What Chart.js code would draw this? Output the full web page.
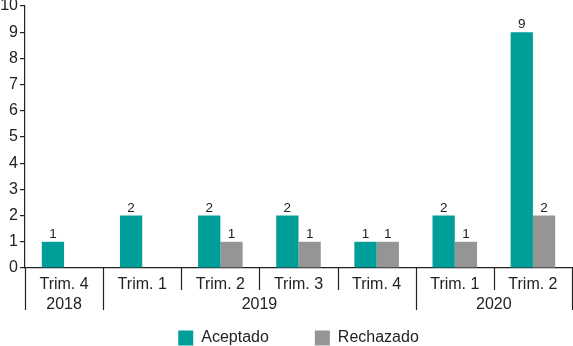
<!DOCTYPE html>
<html>
<head>
<meta charset="utf-8">
<script src="https://cdn.jsdelivr.net/npm/chart.js@4/dist/chart.umd.min.js"></script>
<style>
  html, body { margin: 0; padding: 0; background: #fff; }
</style>
</head>
<body>
<canvas id="mycanvas" width="573" height="346"></canvas>
<script>
// 四半期ラベル（x軸の1段目）
const quarters = ['Trim. 4', 'Trim. 1', 'Trim. 2', 'Trim. 3', 'Trim. 4', 'Trim. 1', 'Trim. 2'];
// 年ラベル（2段目）と、それぞれの年にいくつ四半期が入るか
const years = ['2018', '2019', '2020'];
const yearSpans = [1, 4, 2];
// 値
const aceptado = [1, 2, 2, 2, 1, 2, 9];
const rechazado = [null, null, 1, 1, 1, 1, 2];
const yMax = 10;

Chart.defaults.font.family = '"Liberation Sans", Arial, Helvetica, sans-serif';
Chart.defaults.color = '#222';

// 棒の上に数値を書く
const valueLabels = {
  id: 'valueLabels',
  afterDatasetsDraw(chart) {
    const ctx = chart.ctx;
    ctx.save();
    ctx.font = '13.5px "Liberation Sans", Arial, sans-serif';
    ctx.fillStyle = '#222';
    ctx.textAlign = 'center';
    ctx.textBaseline = 'alphabetic';
    chart.data.datasets.forEach((ds, i) => {
      chart.getDatasetMeta(i).data.forEach((bar, j) => {
        if (ds.data[j] == null) return;
        ctx.fillText(ds.data[j], bar.x, bar.y - 4);
      });
    });
    ctx.restore();
  }
};

// 区切り線と年ラベル
const yearAxis = {
  id: 'yearAxis',
  afterDraw(chart) {
    const x = chart.scales.x;
    const ctx = chart.ctx;
    const base = x.top;
    const half = (x.getPixelForValue(1) - x.getPixelForValue(0)) / 2;
    const edge = i => x.getPixelForValue(i) - half;
    let starts = [0];
    yearSpans.forEach(s => starts.push(starts[starts.length - 1] + s));

    ctx.save();
    ctx.strokeStyle = '#222';
    ctx.lineWidth = 1.2;
    for (let i = 0; i <= quarters.length; i++) {
      const px = Math.round(edge(i)) + 0.5;
      const len = starts.includes(i) ? 42 : 22;
      ctx.beginPath();
      ctx.moveTo(px, base);
      ctx.lineTo(px, base + len);
      ctx.stroke();
    }
    ctx.font = '16px "Liberation Sans", Arial, sans-serif';
    ctx.fillStyle = '#222';
    ctx.textAlign = 'center';
    ctx.textBaseline = 'middle';
    years.forEach((y, k) => {
      const cx = (edge(starts[k]) + edge(starts[k + 1])) / 2;
      ctx.fillText(y, cx, base + 37);
    });
    ctx.restore();
  }
};

// 凡例の高さと位置を調整
const legendFix = {
  id: 'legendFix',
  afterInit(chart) {
    const lg = chart.legend;
    const fit = lg.fit;
    lg.fit = function () { fit.call(this); this.height = 55; };
  },
  afterLayout(chart) {
    chart.legend.top -= 7;
  }
};

const ctx = document.querySelector('#mycanvas').getContext('2d');
const myChart = new Chart(ctx, {
  type: 'bar',
  data: {
    labels: quarters,
    datasets: [
      { label: 'Aceptado', data: aceptado, backgroundColor: '#009e99', categoryPercentage: 0.57, barPercentage: 1 },
      { label: 'Rechazado', data: rechazado, backgroundColor: '#959595', categoryPercentage: 0.57, barPercentage: 1 }
    ]
  },
  options: {
    responsive: false,
    animation: false,
    layout: { padding: { right: 1 } },
    scales: {
      x: {
        grid: { display: false, drawTicks: false, tickLength: 0 },
        border: { display: true, color: '#222', width: 1.2 },
        ticks: { color: '#222', font: { size: 16 }, padding: 7, maxRotation: 0, autoSkip: false },
        afterFit(s) { s.height = 23; }
      },
      y: {
        min: 0,
        max: yMax,
        grid: { drawOnChartArea: false, drawTicks: true, tickLength: 5, color: '#222', lineWidth: 1.2 },
        border: { display: true, color: '#222', width: 1.2 },
        ticks: { stepSize: 1, color: '#222', font: { size: 16 }, padding: 2 },
        afterFit(s) { s.width = 25; s.paddingTop = 6; }
      }
    },
    plugins: {
      legend: {
        position: 'bottom',
        fullSize: false,
        labels: { boxWidth: 15, boxHeight: 15, padding: 46, color: '#222', font: { size: 16 } }
      },
      tooltip: { enabled: false }
    }
  },
  plugins: [valueLabels, yearAxis, legendFix]
});
</script>
</body>
</html>
